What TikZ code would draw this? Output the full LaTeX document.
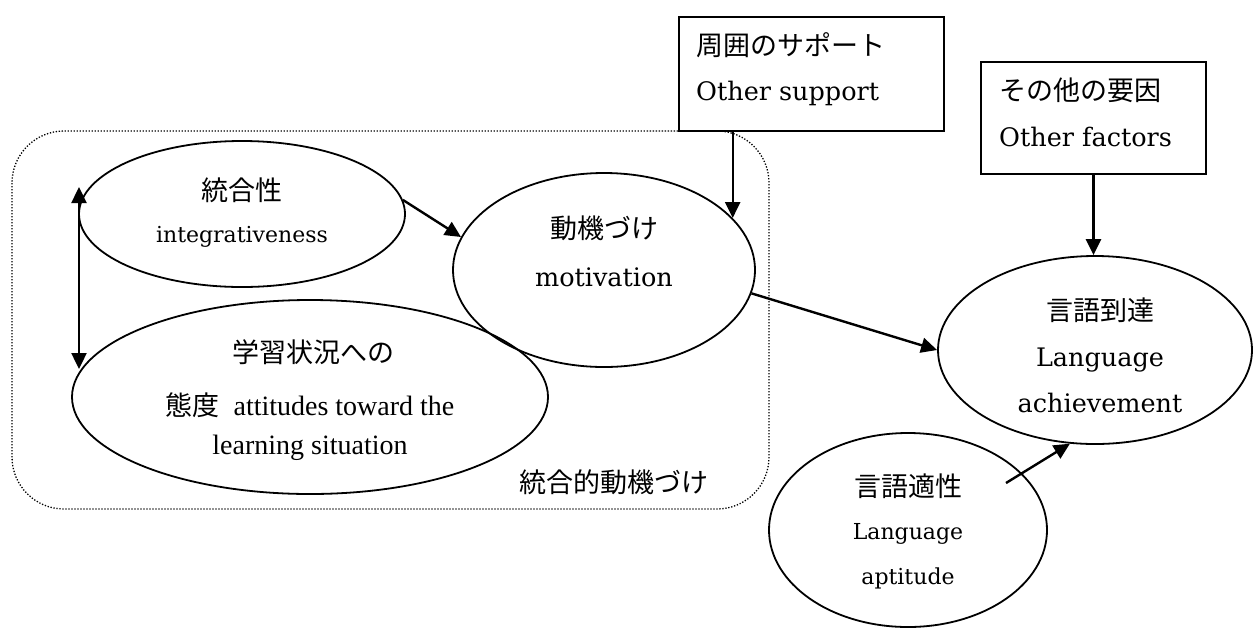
\documentclass[tikz,border=0pt]{standalone}
\usepackage{fontspec}
\newfontfamily\cjk{Noto Sans CJK JP}
\newfontfamily\lat{DejaVu Serif}
\newfontfamily\tms{Liberation Serif}
\usetikzlibrary{shapes.geometric,arrows.meta,calc}
\begin{document}
\begin{tikzpicture}[x=1pt,y=-1pt,
 ell/.style={draw,ellipse,line width=1.8pt,inner sep=0pt},
 boxst/.style={draw,rectangle,line width=1.8pt,inner sep=0pt},
 arr/.style={line width=2.4pt,-{Triangle[length=16pt,width=15pt]}},
 darr/.style={line width=2.4pt,{Triangle[length=16pt,width=15pt]}-{Triangle[length=16pt,width=15pt]}},
 jp/.style={inner sep=0pt,font=\cjk\fontsize{27}{32}\selectfont},
 enA/.style={inner sep=0pt,font=\lat\fontsize{25.5}{30}\selectfont},
 enB/.style={inner sep=0pt,font=\lat\fontsize{22}{26}\selectfont},
 enC/.style={inner sep=0pt,font=\tms\fontsize{28}{32}\selectfont},
 grp/.style={draw,dash pattern=on 1.3pt off 1.7pt,line width=1.3pt,rounded corners=52pt}]
\useasboundingbox (0,0) rectangle (1255,630);

% group box
\draw[grp] (12,131) rectangle (769,509);
\node[jp] (grplabel) at (614,482) {統合的動機づけ};

% ellipses
\node[ell,minimum width=326pt,minimum height=146pt] (int) at (242,214) {};
\node[ell,minimum width=476pt,minimum height=194pt] (att) at (310,397) {};
\node[ell,minimum width=302pt,minimum height=194pt] (mot) at (604,270) {};
\node[ell,minimum width=314pt,minimum height=188pt] (ach) at (1095,350) {};
\node[ell,minimum width=278pt,minimum height=194pt] (apt) at (908,530) {};

% boxes
\node[boxst,minimum width=265pt,minimum height=114pt] (sup) at (811.5,74) {};
\node[boxst,minimum width=225pt,minimum height=112pt] (fac) at (1093.5,118) {};

% texts
\node[jp] (intj) at (242,190) {統合性};
\node[enB] (inte) at (242,237) {integrativeness};
\node[jp] (motj) at (604,228) {動機づけ};
\node[enA] (mote) at (604,277) {motivation};
\node[jp] (attj) at (313,352) {学習状況への};
\node[inner sep=0pt] (atte) at (310,405) {{\cjk\fontsize{27}{32}\selectfont 態度}\hspace{14pt}{\tms\fontsize{28}{32}\selectfont attitudes toward the}};
\node[enC] (attf) at (310,448) {learning situation};
\node[jp] (achj) at (1100,310) {言語到達};
\node[enA] (ache) at (1100,360) {Language};
\node[enA] (achf) at (1100,403) {achievement};
\node[jp] (aptj) at (908,486) {言語適性};
\node[enB] (apte) at (908,534) {Language};
\node[enB] (aptf) at (908,578) {aptitude};
\node[jp,anchor=west] (supj) at (696,45) {周囲のサポート};
\node[enA,anchor=west] (supe) at (696,93) {Other support};
\node[jp,anchor=west] (facj) at (999,90) {その他の要因};
\node[enA,anchor=west] (face) at (999,137) {Other factors};

% connectors
\coordinate (dtop) at (79,187);
\coordinate (dbot) at (79,369);
\draw[darr] (dtop) -- (dbot);
\draw[arr] (int.5) -- (mot.167);
\draw[arr] (mot.22 |- sup.south) -- (mot.22);
\draw[arr] (mot.-9) -- (ach.west);
\draw[arr] (fac.south) -- (fac.south |- ach.north);
\coordinate (aptstart) at (1006,483);
\draw[arr] (aptstart) -- (ach.-105.5);
\end{tikzpicture}
\end{document}
